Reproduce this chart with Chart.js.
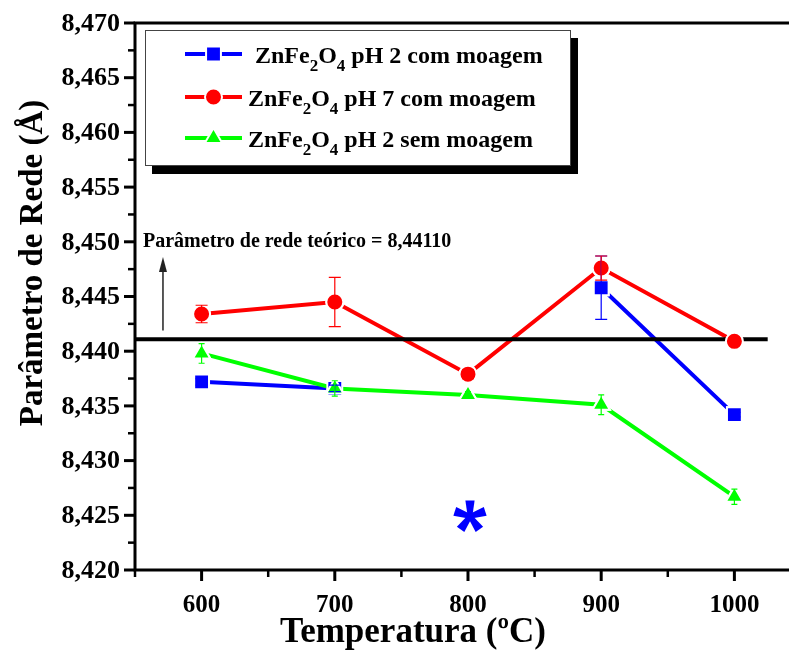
<!DOCTYPE html>
<html>
<head>
<meta charset="utf-8">
<script src="https://cdn.jsdelivr.net/npm/chart.js@4/dist/chart.umd.min.js"></script>
<style>
  html, body { margin: 0; padding: 0; background: #fff; }
  #wrap { width: 789px; height: 650px; position: relative; }
</style>
</head>
<body>
<div id="wrap"><canvas id="c" width="789" height="650"></canvas></div>
<script>
// Calcination temperatures (°C)
const temperatures = [600, 700, 800, 900, 1000];

// Lattice parameter (Å) and error bars for each sample
const ph2Milled      = [8.4372, 8.4366, null,   8.4458, 8.4342];
const ph2MilledErr   = [0.0003, 0.0003, null,   0.0029, 0.0002];
const ph7Milled      = [8.4434, 8.4445, 8.4379, 8.4476, 8.4409];
const ph7MilledErr   = [0.0008, 0.00225, 0.0004, 0.0011, 0.0003];
const ph2Unmilled    = [8.4398, 8.4366, 8.4360, 8.4351, 8.4267];
const ph2UnmilledErr = [0.0009, 0.0007, 0.0003, 0.0009, 0.0007];

const seriesLabels = ['pH 2 com moagem', 'pH 7 com moagem', 'pH 2 sem moagem'];

// Theoretical lattice parameter and the temperature where its reference line stops
const theoreticalParam = 8.44110;
const theoreticalLineEnd = 1025;

// Axis ranges and ticks
const xRange = [550, 1041];
const yRange = [8.420, 8.470];
const xMajorTicks = [600, 700, 800, 900, 1000];
const xMinorTicks = [550, 650, 750, 850, 950];
const yMajorTicks = [8.420, 8.425, 8.430, 8.435, 8.440, 8.445, 8.450, 8.455, 8.460, 8.465, 8.470];
const yMinorTicks = [8.4225, 8.4275, 8.4325, 8.4375, 8.4425, 8.4475, 8.4525, 8.4575, 8.4625, 8.4675];

const SERIF = '"Liberation Serif", "Times New Roman", serif';
const BLUE = '#0000ff', RED = '#ff0000', GREEN = '#00ff00';

function toPoints(values) {
  return temperatures.map((t, i) => ({ x: t, y: values[i] }));
}

const seriesDefs = [
  { values: ph2Milled,   errors: ph2MilledErr,   color: BLUE,  style: 'rect',     radius: 10.5, cap: 6, order: 3 },
  { values: ph7Milled,   errors: ph7MilledErr,   color: RED,   style: 'circle',   radius: 8.5,  cap: 6, order: 2 },
  { values: ph2Unmilled, errors: ph2UnmilledErr, color: GREEN, style: 'triangle', radius: 10,   cap: 3, order: 1 }
];

const datasets = seriesDefs.map((s, i) => ({
  label: seriesLabels[i],
  data: toPoints(s.values),
  borderColor: s.color,
  backgroundColor: s.color,
  borderWidth: 4,
  pointStyle: s.style,
  pointRadius: s.radius,
  pointBorderColor: '#ffffff',
  pointBorderWidth: 2,
  pointBackgroundColor: s.color,
  spanGaps: false,
  tension: 0,
  order: s.order
}));

// Reference line of the theoretical lattice parameter
datasets.push({
  label: 'teórico',
  data: [{ x: xRange[0], y: theoreticalParam }, { x: theoreticalLineEnd, y: theoreticalParam }],
  borderColor: '#000000',
  borderWidth: 4,
  pointRadius: 0,
  tension: 0,
  order: 0
});

function fmtComma(v, digits) {
  return v.toFixed(digits).replace('.', ',');
}

function drawFormula(ctx, x, y, rest) {
  const big = 'bold 24px ' + SERIF;
  const small = 'bold 17px ' + SERIF;
  const parts = [['ZnFe', big, 0], ['2', small, 8], ['O', big, 0], ['4', small, 8], [' ' + rest, big, 0]];
  let cx = x;
  ctx.textAlign = 'left';
  ctx.textBaseline = 'alphabetic';
  parts.forEach(([t, f, dy]) => {
    ctx.font = f;
    ctx.fillText(t, cx, y + dy);
    cx += ctx.measureText(t).width;
  });
}

function drawMarker(ctx, style, x, y, radius, color) {
  ctx.save();
  ctx.fillStyle = color;
  ctx.strokeStyle = '#ffffff';
  ctx.lineWidth = 2;
  Chart.helpers.drawPoint(ctx, { pointStyle: style, radius: radius, rotation: 0, borderWidth: 2 }, x, y);
  ctx.restore();
}

const overlay = {
  id: 'overlay',
  afterDatasetsDraw(chart) {
    const ctx = chart.ctx;
    const xs = chart.scales.x, ys = chart.scales.y;
    const area = chart.chartArea;

    // markers sit above the reference line
    chart.getSortedVisibleDatasetMetas()
      .filter(m => m.index < seriesDefs.length)
      .sort((a, b) => a.index - b.index)
      .forEach(meta => meta.data.forEach(p => { if (!p.skip) p.draw(ctx, area); }));

    // error bars
    ctx.save();
    seriesDefs.forEach(s => {
      ctx.strokeStyle = s.color;
      ctx.lineWidth = 1.2;
      temperatures.forEach((t, i) => {
        const v = s.values[i], e = s.errors[i];
        if (v === null || e === null) return;
        const px = xs.getPixelForValue(t);
        const y1 = ys.getPixelForValue(v + e);
        const y2 = ys.getPixelForValue(v - e);
        ctx.beginPath();
        ctx.moveTo(px, y1); ctx.lineTo(px, y2);
        ctx.moveTo(px - s.cap, y1); ctx.lineTo(px + s.cap, y1);
        ctx.moveTo(px - s.cap, y2); ctx.lineTo(px + s.cap, y2);
        ctx.stroke();
      });
    });
    ctx.restore();

    // missing sample marked with an asterisk
    ctx.save();
    const ax = xs.getPixelForValue(temperatures[2]) + 2;
    const ay = ys.getPixelForValue(8.4249);
    ctx.fillStyle = BLUE;
    for (let k = 0; k < 5; k++) {
      const ang = -Math.PI / 2 + k * 2 * Math.PI / 5;
      const c = Math.cos(ang), sn = Math.sin(ang);
      const nx = -sn, ny = c;
      const r0 = 2, r1 = 16, w0 = 2.6, w1 = 4.6;
      ctx.beginPath();
      ctx.moveTo(ax + c * r0 + nx * w0, ay + sn * r0 + ny * w0);
      ctx.lineTo(ax + c * r1 + nx * w1, ay + sn * r1 + ny * w1);
      ctx.lineTo(ax + c * r1 - nx * w1, ay + sn * r1 - ny * w1);
      ctx.lineTo(ax + c * r0 - nx * w0, ay + sn * r0 - ny * w0);
      ctx.closePath();
      ctx.fill();
    }
    ctx.beginPath(); ctx.arc(ax, ay, 4, 0, Math.PI * 2); ctx.fill();
    ctx.restore();
  },
  afterDraw(chart) {
    const ctx = chart.ctx;
    const xs = chart.scales.x, ys = chart.scales.y;
    const a = chart.chartArea;
    ctx.save();
    ctx.strokeStyle = '#000';
    ctx.fillStyle = '#000';
    ctx.lineCap = 'butt';

    // frame: left, top and bottom axis lines
    ctx.lineWidth = 3;
    ctx.beginPath();
    ctx.moveTo(a.left, a.top - 1.5); ctx.lineTo(a.left, a.bottom + 1.5);
    ctx.moveTo(a.left - 1.5, a.top); ctx.lineTo(a.right, a.top);
    ctx.moveTo(a.left - 1.5, a.bottom); ctx.lineTo(a.right, a.bottom);
    ctx.stroke();

    // y ticks
    ctx.lineWidth = 3;
    yMajorTicks.forEach(v => {
      const py = ys.getPixelForValue(v);
      ctx.beginPath(); ctx.moveTo(a.left - 11, py); ctx.lineTo(a.left, py); ctx.stroke();
    });
    ctx.lineWidth = 2.5;
    yMinorTicks.forEach(v => {
      const py = ys.getPixelForValue(v);
      ctx.beginPath(); ctx.moveTo(a.left - 7, py); ctx.lineTo(a.left, py); ctx.stroke();
    });
    // x ticks
    ctx.lineWidth = 3;
    xMajorTicks.forEach(v => {
      const px = xs.getPixelForValue(v);
      ctx.beginPath(); ctx.moveTo(px, a.bottom); ctx.lineTo(px, a.bottom + 11); ctx.stroke();
    });
    ctx.lineWidth = 2.5;
    xMinorTicks.forEach(v => {
      const px = xs.getPixelForValue(v);
      ctx.beginPath(); ctx.moveTo(px, a.bottom); ctx.lineTo(px, a.bottom + 7); ctx.stroke();
    });

    // tick labels
    ctx.font = 'bold 26px ' + SERIF;
    ctx.textAlign = 'right';
    ctx.textBaseline = 'middle';
    yMajorTicks.forEach(v => ctx.fillText(fmtComma(v, 3), a.left - 15, ys.getPixelForValue(v) + 1));
    ctx.font = 'bold 25px ' + SERIF;
    ctx.textAlign = 'center';
    xMajorTicks.forEach(v => ctx.fillText(String(v), xs.getPixelForValue(v), a.bottom + 36));

    // axis titles
    ctx.font = 'bold 35px ' + SERIF;
    ctx.textBaseline = 'alphabetic';
    ctx.fillText('Temperatura (ºC)', 413, 642);
    ctx.save();
    ctx.translate(42, 263);
    ctx.rotate(-Math.PI / 2);
    ctx.font = 'bold 33px ' + SERIF;
    ctx.fillText('Parâmetro de Rede (Å)', 0, 0);
    ctx.restore();

    // theoretical value note with arrow
    ctx.font = 'bold 20px ' + SERIF;
    ctx.textAlign = 'left';
    ctx.fillText('Parâmetro de rede teórico = ' + fmtComma(theoreticalParam, 5), a.left + 8, ys.getPixelForValue(8.4495));
    const arx = xs.getPixelForValue(571);
    const arBottom = ys.getPixelForValue(theoreticalParam + 0.0008);
    const arTip = ys.getPixelForValue(8.4486);
    ctx.strokeStyle = '#222';
    ctx.fillStyle = '#222';
    ctx.lineWidth = 1.5;
    ctx.beginPath(); ctx.moveTo(arx, arBottom); ctx.lineTo(arx, arTip + 10); ctx.stroke();
    ctx.beginPath();
    ctx.moveTo(arx, arTip); ctx.lineTo(arx - 4, arTip + 15); ctx.lineTo(arx + 4, arTip + 15);
    ctx.closePath(); ctx.fill();

    // legend box with drop shadow
    const bx = 145, by = 30, bw = 425, bh = 135;
    ctx.fillStyle = '#000';
    ctx.fillRect(bx + 7, by + 8, bw + 1, bh + 1);
    ctx.fillStyle = '#fff';
    ctx.fillRect(bx, by, bw, bh);
    ctx.strokeStyle = '#444';
    ctx.lineWidth = 1;
    ctx.strokeRect(bx + 0.5, by + 0.5, bw, bh);

    const rowY = [54, 97, 138];
    const textX = [255, 248, 248];
    seriesDefs.forEach((s, i) => {
      const cy = rowY[i];
      ctx.strokeStyle = s.color;
      ctx.lineWidth = 4;
      ctx.beginPath(); ctx.moveTo(185, cy); ctx.lineTo(242, cy); ctx.stroke();
      drawMarker(ctx, s.style, 213.5, cy, s.radius, s.color);
      ctx.fillStyle = '#000';
      drawFormula(ctx, textX[i], cy + 9, seriesLabels[i]);
    });

    ctx.restore();
  }
};

new Chart(document.getElementById('c'), {
  type: 'line',
  data: { datasets: datasets },
  options: {
    responsive: false,
    animation: false,
    layout: { autoPadding: false, padding: { left: 135, top: 23, right: 0, bottom: 80 } },
    plugins: { legend: { display: false }, tooltip: { enabled: false } },
    scales: {
      x: { type: 'linear', min: xRange[0], max: xRange[1], display: false },
      y: { type: 'linear', min: yRange[0], max: yRange[1], display: false }
    }
  },
  plugins: [overlay]
});
</script>
</body>
</html>
